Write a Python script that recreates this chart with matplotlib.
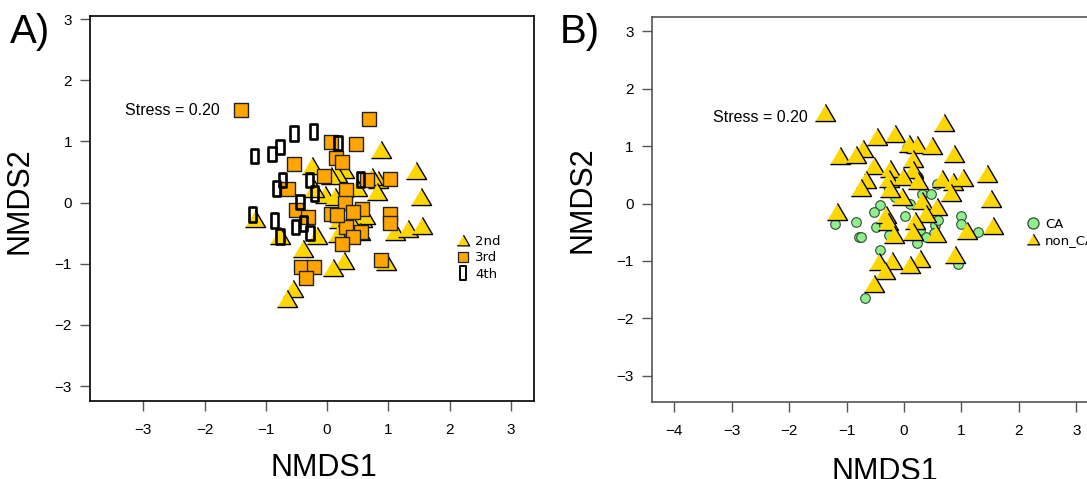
import matplotlib
matplotlib.use("Agg")
import matplotlib.pyplot as plt
from matplotlib.lines import Line2D
from matplotlib.path import Path

# ---------------- Panel A: 2nd / 3rd / 4th ----------------
a_2nd_x = [0.88, 1.45, 1.53, -0.25, 0.28, 0.17, 0.84, 0.73, 0.49, 0.81, -0.04, -0.21, 0.13, 0.19,
           0.57, 0.62, 1.11, 1.33, 1.55, -0.17, -0.39, -0.77, 0.18, 0.54, 0.27, 0.09, 0.96, -0.55,
           -0.65, -1.17, 0.07, 0.39]
a_2nd_y = [0.85, 0.50, 0.08, 0.58, 0.52, 0.45, 0.36, 0.40, 0.22, 0.16, 0.10, 0.20, 0.07, -0.31,
           -0.29, -0.23, -0.50, -0.45, -0.40, -0.56, -0.78, -0.56, -0.53, -0.50, -0.98, -1.08, -0.99,
           -1.43, -1.59, -0.29, 0.42, -0.34]

a_3rd_x = [0.69, 0.07, 0.47, 0.15, -0.54, -0.05, 0.31, 1.02, -0.64, 0.65, 0.30, -0.51, -0.31, 0.07,
           1.03, 0.57, 0.43, 0.31, 0.55, 0.42, 0.25, 1.03, -0.43, -0.22, -0.34, 0.88, 0.16, -1.40, 0.24]
a_3rd_y = [1.36, 0.99, 0.95, 0.73, 0.63, 0.44, 0.20, 0.38, 0.22, 0.37, -0.01, -0.12, -0.23, -0.18,
           -0.19, -0.10, -0.15, -0.40, -0.48, -0.56, -0.67, -0.34, -1.05, -1.05, -1.24, -0.94, -0.20,
           1.52, 0.67]

a_4th_x = [-0.54, -0.22, -0.77, -0.90, 0.18, -0.73, -0.82, -0.29, 0.55, -0.44, -0.86, -0.51, -0.39,
           -0.28, -0.77, -0.21, -1.19, -1.22]
a_4th_y = [1.13, 1.16, 0.91, 0.79, 0.97, 0.37, 0.23, 0.37, 0.38, 0.01, -0.29, -0.40, -0.34, -0.50,
           -0.56, 0.15, 0.76, -0.20]

# ---------------- Panel B: CA / non_CA ----------------
b_non_x = [-1.37, 0.70, -0.47, -0.16, 0.08, 0.23, 0.48, -0.71, -1.11, -0.83, 0.87, 0.15, -0.52, -0.24,
           0.16, -0.66, -0.75, -0.26, -0.01, 0.25, 0.66, 0.86, 1.03, 1.45, 1.52, 0.81, -0.04, -0.24,
           0.31, 0.57, 0.39, -1.16, -0.31, -0.28, 0.19, 0.16, 0.56, -0.17, 1.10, 1.55, 0.28, 0.89,
           0.10, -0.21, -0.43, -0.33, -0.53]
b_non_y = [1.56, 1.39, 1.15, 1.20, 1.02, 1.00, 0.98, 0.93, 0.81, 0.82, 0.85, 0.75, 0.64, 0.59,
           0.56, 0.40, 0.25, 0.41, 0.44, 0.38, 0.41, 0.35, 0.42, 0.50, 0.07, 0.17, 0.10, 0.24,
           0.02, -0.08, -0.20, -0.17, -0.22, -0.33, -0.32, -0.52, -0.55, -0.56, -0.49, -0.40, -0.98,
           -0.91, -1.09, -1.01, -1.04, -1.20, -1.42]

b_ca_x = [-0.75, 0.05, -0.08, 0.25, 0.57, -0.27, 0.31, 0.47, -0.16, -0.42, -0.53, -0.83, -1.20, -0.49,
          -0.35, -0.79, -0.75, -0.26, 0.02, 0.54, 0.59, 0.53, 0.39, 0.22, 1.00, 1.00, 1.29, -0.41,
          0.94, -0.67, 0.10, 0.28]
b_ca_y = [0.88, 0.96, 0.42, 0.46, 0.34, 0.31, 0.17, 0.17, 0.12, -0.02, -0.14, -0.32, -0.36, -0.40,
          -0.37, -0.59, -0.58, -0.55, -0.22, -0.37, -0.29, -0.51, -0.58, -0.69, -0.22, -0.36, -0.49,
          -0.81, -1.05, -1.64, 0.00, -0.46]

ticks_a = [-3, -2, -1, 0, 1, 2, 3]
ticks_bx = [-4, -3, -2, -1, 0, 1, 2, 3]
stress_txt = "Stress = 0.20"

# estilo
plt.rcParams.update({
    'font.family': ['Liberation Sans', 'DejaVu Sans'],
    'axes.linewidth': 1.2,
    'xtick.direction': 'out',
    'ytick.direction': 'out',
})

TRI = [(-1, -0.7), (1, -0.7), (0, 1.0)]
# rectangulo estrecho y cerrado (4th)
RECT = Path([(-0.5, -1), (0.5, -1), (0.5, 1), (-0.5, 1), (-0.5, -1)],
            [Path.MOVETO, Path.LINETO, Path.LINETO, Path.LINETO, Path.CLOSEPOLY])
GOLD = '#FFD700'
ORANGE = '#FFA500'
GREEN = '#90EE90'

fig = plt.figure(figsize=(10.87, 4.79), dpi=100)
axA = fig.add_axes([0.0828, 0.1635, 0.4085, 0.8031])
axB = fig.add_axes([0.5995, 0.1614, 0.4262, 0.8021])


def estilo_ejes(ax, xt, edge):
    ax.set_xticks(xt)
    ax.set_yticks(ticks_a)
    ax.set_xticklabels([str(t).replace('-', '\u2212') for t in xt])
    ax.set_yticklabels([str(t).replace('-', '\u2212') for t in ticks_a])
    ax.tick_params(axis='both', length=7, width=1.0, color='#555555', labelsize=11)
    ax.tick_params(axis='x', pad=9)
    ax.tick_params(axis='y', pad=6)
    for s in ax.spines.values():
        s.set_color(edge)
        s.set_linewidth(1.2)
    ax.set_xlabel("NMDS1", fontsize=22)
    ax.set_ylabel("NMDS2", fontsize=22)


# ---- A ----
axA.scatter(a_2nd_x, a_2nd_y, marker=TRI, s=210, c=GOLD, edgecolors='black', linewidths=1.0, zorder=3)
axA.scatter(a_3rd_x, a_3rd_y, marker='s', s=105, c=ORANGE, edgecolors='#222222', linewidths=1.0, zorder=3)
axA.scatter(a_4th_x, a_4th_y, marker=RECT, s=110, facecolors='none', edgecolors='black', linewidths=1.9, zorder=4)
axA.set_xlim(-3.87, 3.38)
axA.set_ylim(-3.24, 3.05)
estilo_ejes(axA, ticks_a, 'black')
axA.xaxis.set_label_coords(0.527, -0.136)
axA.yaxis.set_label_coords(-0.124, 0.52)
axA.text(-3.30, 1.51, stress_txt, fontsize=11.5, va='center', ha='left')

hA = [Line2D([], [], ls='none', marker=TRI, ms=9, mfc=GOLD, mec='black', mew=0.9),
      Line2D([], [], ls='none', marker='s', ms=7, mfc=ORANGE, mec='#222222', mew=0.9),
      Line2D([], [], ls='none', marker=RECT, ms=10, mfc='white', mec='black', mew=1.4)]
axA.legend(hA, ['2nd', '3rd', '4th'], loc='center left', bbox_to_anchor=(0.811, 0.371),
           frameon=False, borderpad=0, handlelength=1.0, handletextpad=0.4, labelspacing=0.25,
           prop={'family': 'DejaVu Sans', 'size': 9.5})

# ---- B ----
axB.scatter(b_ca_x, b_ca_y, marker='o', s=48, c=GREEN, edgecolors='#2f4f2f', linewidths=0.8, zorder=3)
axB.scatter(b_non_x, b_non_y, marker=TRI, s=210, c=GOLD, edgecolors='black', linewidths=1.0, zorder=3)
axB.set_xlim(-4.39, 3.67)
axB.set_ylim(-3.45, 3.24)
estilo_ejes(axB, ticks_bx, '#555555')
axB.xaxis.set_label_coords(0.504, -0.145)
axB.yaxis.set_label_coords(-0.116, 0.525)
axB.text(-3.32, 1.49, stress_txt, fontsize=11.5, va='center', ha='left')

hB = [Line2D([], [], ls='none', marker='o', ms=8, mfc=GREEN, mec='#2f4f2f', mew=0.9),
      Line2D([], [], ls='none', marker=TRI, ms=9, mfc=GOLD, mec='black', mew=0.9)]
axB.legend(hB, ['CA', 'non_CA'], loc='center left', bbox_to_anchor=(0.795, 0.440),
           frameon=False, borderpad=0, handlelength=1.0, handletextpad=0.4, labelspacing=0.25,
           prop={'family': 'DejaVu Sans', 'size': 9.5})

fig.text(0.009, 0.933, "A)", fontsize=29, va='center', ha='left')
fig.text(0.515, 0.933, "B)", fontsize=29, va='center', ha='left')

fig.savefig("out.png", dpi=100)
